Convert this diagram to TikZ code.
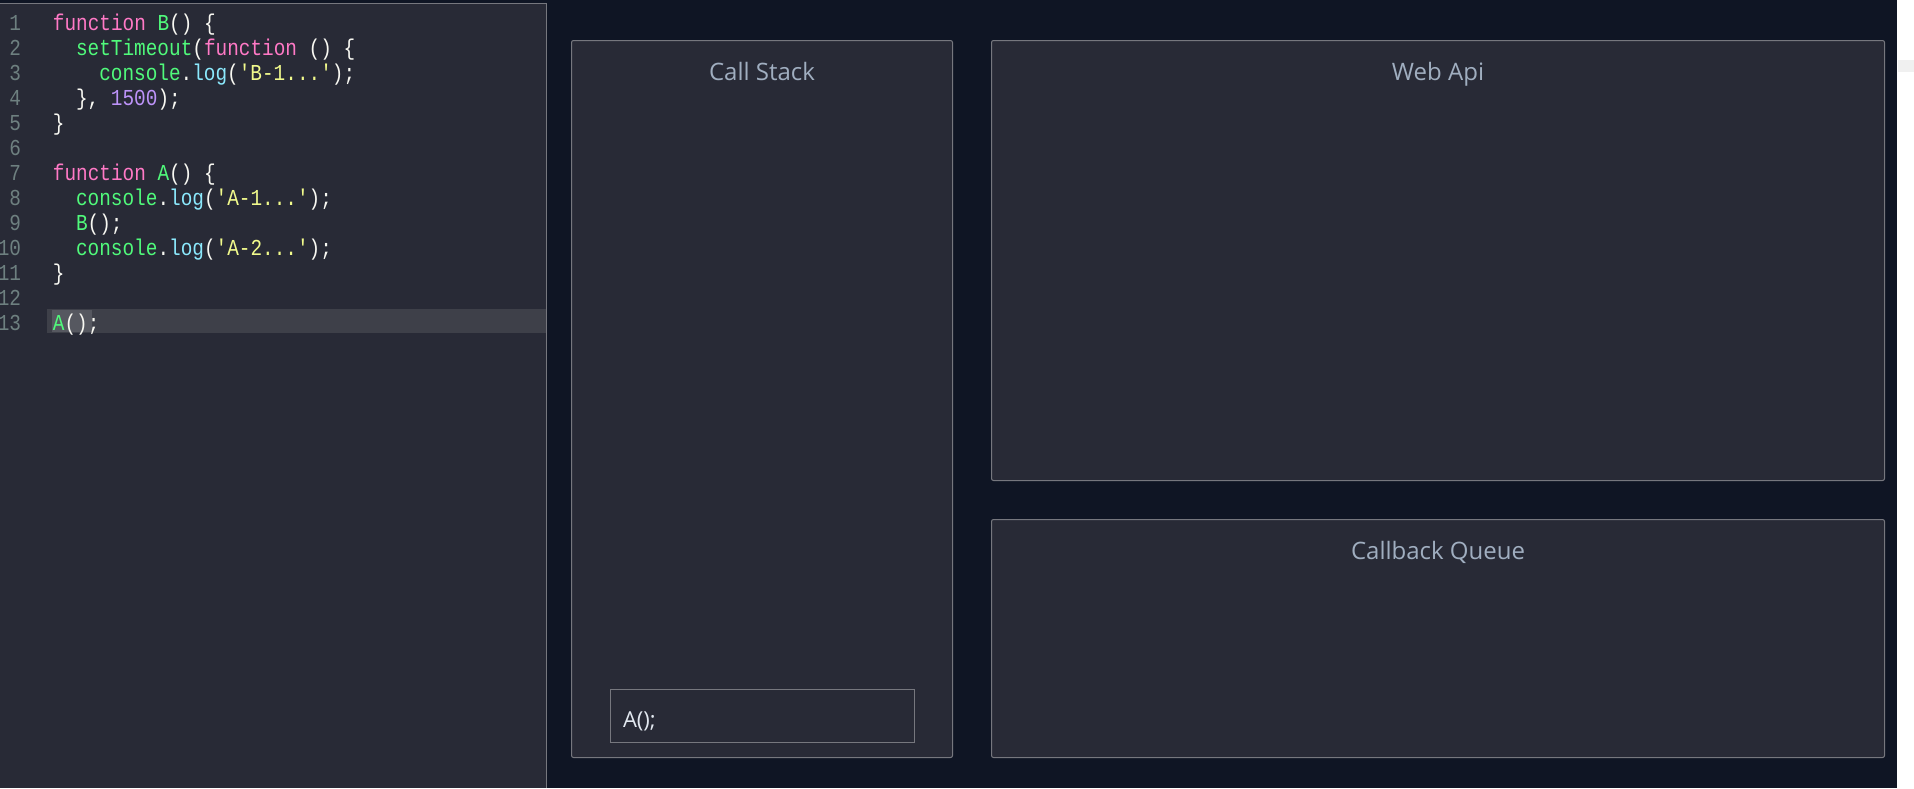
\documentclass[tikz,border=0pt]{standalone}
\usepackage{fontspec}
\usepackage{tikz}
\newfontfamily\uifont{Open Sans}
\newfontfamily\codefont[FakeStretch=0.85,Ligatures=TeXOff]{Liberation Mono}

\definecolor{pagebg}{HTML}{0F1524}
\definecolor{panelbg}{HTML}{282A36}
\definecolor{panelline}{HTML}{76777E}
\definecolor{curline}{HTML}{3E4049}
\definecolor{selbg}{HTML}{565860}
\definecolor{gutter}{HTML}{6E8080}
\definecolor{kwpink}{HTML}{FF79C6}
\definecolor{idgreen}{HTML}{50FA7B}
\definecolor{fncyan}{HTML}{8BE9FD}
\definecolor{stryellow}{HTML}{F1FA8C}
\definecolor{numpurple}{HTML}{BD93F9}
\definecolor{plaintext}{HTML}{F8F8F2}
\definecolor{titletext}{HTML}{A0AEC0}
\definecolor{frametext}{HTML}{E2E8F0}

\newcommand{\cKw}[1]{\textcolor{kwpink}{#1}}
\newcommand{\cId}[1]{\textcolor{idgreen}{#1}}
\newcommand{\cFn}[1]{\textcolor{fncyan}{#1}}
\newcommand{\cStr}[1]{\textcolor{stryellow}{#1}}
\newcommand{\cNum}[1]{\textcolor{numpurple}{#1}}

\begin{document}
\begin{tikzpicture}[x=0.5pt, y=-0.5pt,
    box/.style={draw=panelline, fill=panelbg, line width=0.5pt, rounded corners=1pt, inner sep=0pt, anchor=north west},
    title/.style={font=\uifont\fontsize{12}{14}\selectfont, text=titletext, inner sep=0pt, anchor=base},
    lnum/.style={font=\codefont\fontsize{11.4}{13}\selectfont, text=gutter, inner sep=0pt, anchor=base east},
    code/.style={font=\codefont\fontsize{11.4}{13}\selectfont, text=plaintext, inner sep=0pt, anchor=base west}]
    \useasboundingbox (0,0) rectangle (1914,788);
    \fill[pagebg] (0,0) rectangle (1897,788);
    \fill[white] (1897,0) rectangle (1914,788);
    \fill[black!6] (1898,60) rectangle (1914,72);

    % editor
    \fill[panelbg] (0,3) rectangle (546,788);
    \fill[curline] (47,309) rectangle (546,333);
    \fill[selbg] (52,310) rectangle (92,332);
    \draw[panelline, line width=0.5pt] (0,3) -- (546,3) -- (546,788);

    \foreach \n in {1,...,13}
        \node[lnum] (ln\n) at (21.5, {30+25*(\n-1)}) {\n};

    \node[code] (l1) at (52.5, 30) {\cKw{function} \cId{B}() \{};
    \node[code] (l2) at (75.7, 55) {\cId{setTimeout}(\cKw{function} () \{};
    \node[code] (l3) at (98.9, 80) {\cId{console}.\cFn{log}(\cStr{'B-1...'});};
    \node[code] (l4) at (75.7, 105) {\}, \cNum{1500});};
    \node[code] (l5) at (52.5, 130) {\}};
    \node[code] (l7) at (52.5, 180) {\cKw{function} \cId{A}() \{};
    \node[code] (l8) at (75.7, 205) {\cId{console}.\cFn{log}(\cStr{'A-1...'});};
    \node[code] (l9) at (75.7, 230) {\cId{B}();};
    \node[code] (l10) at (75.7, 255) {\cId{console}.\cFn{log}(\cStr{'A-2...'});};
    \node[code] (l11) at (52.5, 280) {\}};
    \node[code] (l13) at (52.5, 330) {\cId{A}();};

    % panels
    \node[box, minimum width=190.5pt, minimum height=358.5pt] (stack) at (571,40) {};
    \node[box, minimum width=446.5pt, minimum height=220pt] (webapi) at (991,40) {};
    \node[box, minimum width=446.5pt, minimum height=119pt] (queue) at (991,519) {};
    \node[title] (stacktitle) at ([yshift=-20pt]stack.north) {Call Stack};
    \node[title] (webapititle) at ([yshift=-20pt]webapi.north) {Web Api};
    \node[title] (queuetitle) at ([yshift=-20pt]queue.north) {Callback Queue};

    \node[box, rounded corners=0pt, minimum width=152pt, minimum height=26.5pt] (frame) at (610,689) {};
    \node[font=\uifont\fontsize{11}{13}\selectfont, text=frametext, inner sep=0pt, anchor=base west] (frametxt) at ([xshift=6.3pt, yshift=-5.5pt]frame.west) {A();};
\end{tikzpicture}
\end{document}
